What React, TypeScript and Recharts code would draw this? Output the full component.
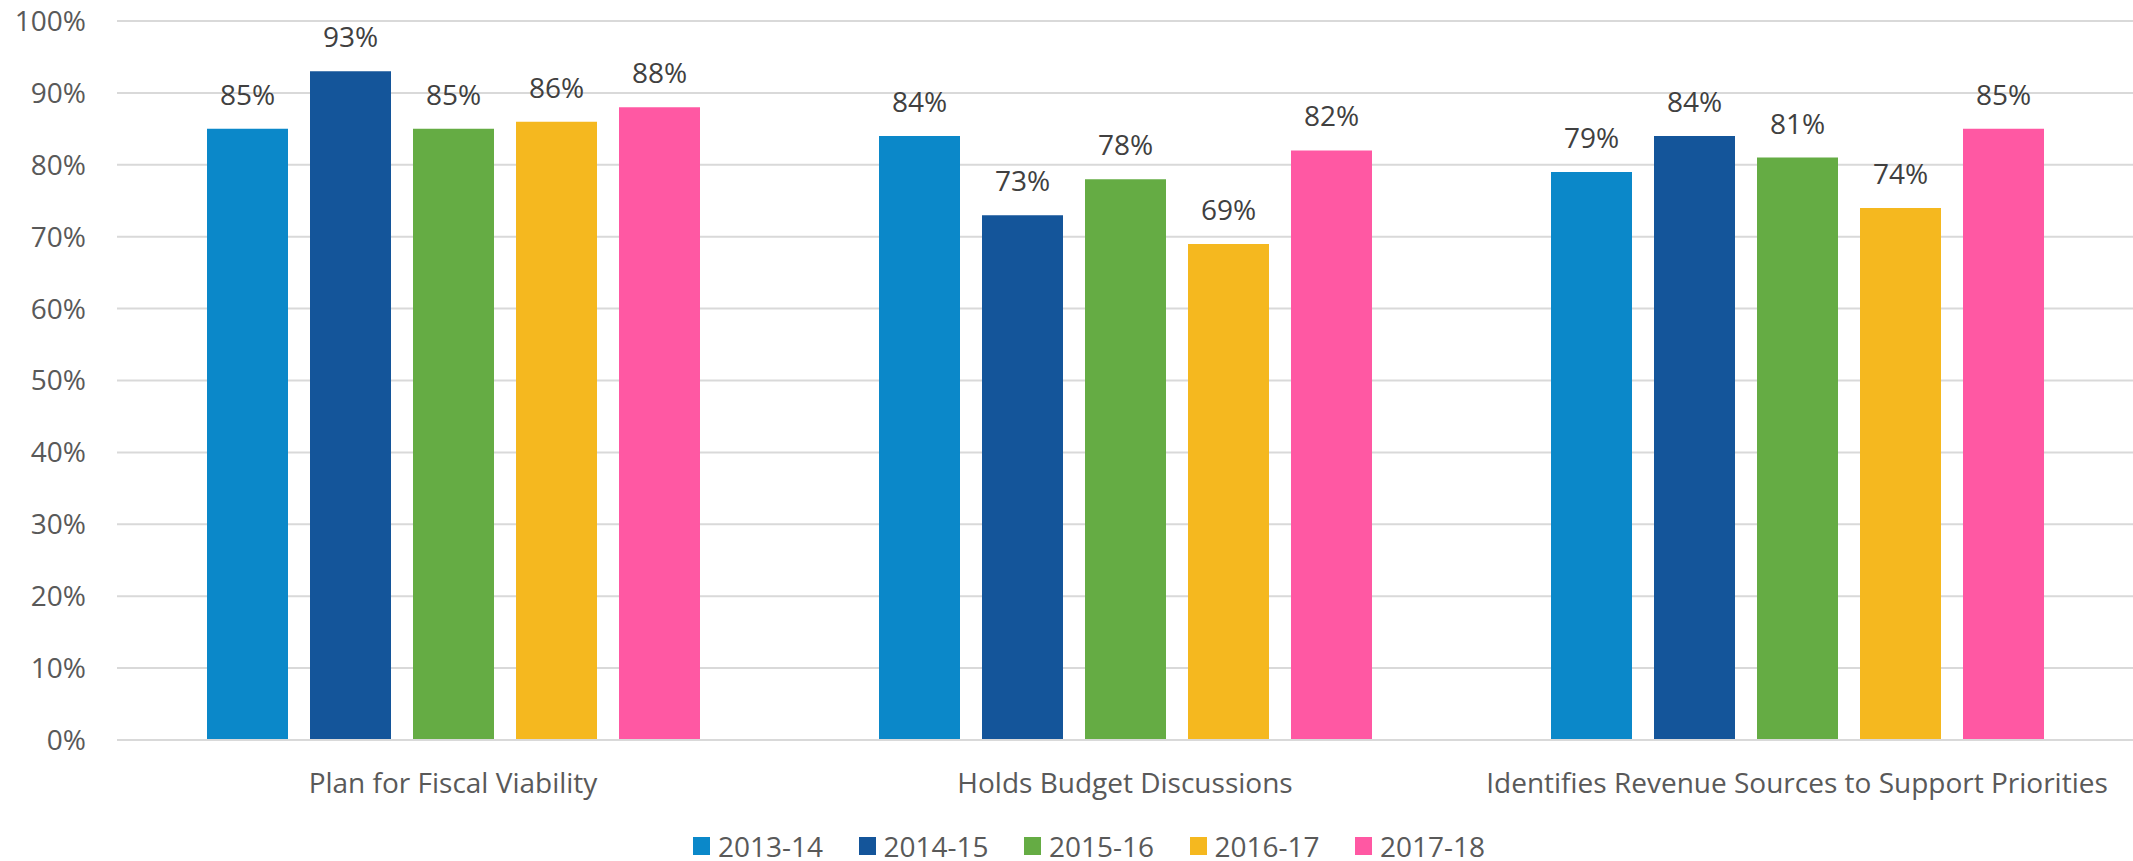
import React from "react";
import {
  BarChart,
  Bar,
  XAxis,
  YAxis,
  CartesianGrid,
  Legend,
  LabelList,
} from "recharts";

const categories = [
  "Plan for Fiscal Viability",
  "Holds Budget Discussions",
  "Identifies Revenue Sources to Support Priorities",
];

const years = ["2013-14", "2014-15", "2015-16", "2016-17", "2017-18"];
const yearColors = ["#0B88C9", "#14559A", "#65AC44", "#F5B81F", "#FF58A3"];

const values2013 = [85, 84, 79];
const values2014 = [93, 73, 84];
const values2015 = [85, 78, 81];
const values2016 = [86, 69, 74];
const values2017 = [88, 82, 85];

const yTicks = [0, 10, 20, 30, 40, 50, 60, 70, 80, 90, 100];

const seriesValues = [values2013, values2014, values2015, values2016, values2017];

const data = categories.map((name, i) => {
  const row: Record<string, string | number> = { name };
  years.forEach((y, j) => {
    row[y] = seriesValues[j][i];
  });
  return row;
});

const FONT = "'Open Sans', Lato, sans-serif";

function renderLegend() {
  return (
    <div
      style={{
        display: "flex",
        alignItems: "center",
        height: 30,
        fontFamily: FONT,
        fontSize: 28,
        color: "#595959",
      }}
    >
      {years.map((y, i) => (
        <div
          key={y}
          style={{ display: "flex", alignItems: "center", width: 165.5 }}
        >
          <span
            style={{
              display: "inline-block",
              width: 17,
              height: 18,
              background: yearColors[i],
              marginRight: 8,
            }}
          />
          <span style={{ lineHeight: "30px" }}>{y}</span>
        </div>
      ))}
    </div>
  );
}

export default function App() {
  return (
    <div
      style={{
        position: "absolute",
        left: 0,
        top: 0,
        width: 2133,
        height: 861,
        background: "#fff",
      }}
    >
      <BarChart
        width={2133}
        height={861}
        data={data}
        margin={{ top: 21, right: 0, bottom: 0, left: 0 }}
        barSize={81}
        barGap={22}
      >
        <CartesianGrid
          vertical={false}
          stroke="#d9d9d9"
          strokeWidth={2}
        />
        <XAxis
          dataKey="name"
          height={91}
          tickLine={false}
          axisLine={{ stroke: "#d9d9d9", strokeWidth: 2 }}
          tickSize={0}
          tickMargin={33}
          interval={0}
          tick={{ fontSize: 28, fill: "#595959", fontFamily: FONT }}
        />
        <YAxis
          width={117}
          domain={[0, 100]}
          ticks={yTicks}
          tickFormatter={(v) => `${v}%`}
          axisLine={false}
          tickLine={false}
          tickSize={0}
          tickMargin={31}
          tick={{ fontSize: 28, fill: "#595959", fontFamily: FONT }}
        />
        <Legend
          verticalAlign="bottom"
          content={renderLegend}
          wrapperStyle={{ left: 693, width: 900, height: 30 }}
        />
        {years.map((y, i) => (
          <Bar
            key={y}
            dataKey={y}
            fill={yearColors[i]}
            isAnimationActive={false}
          >
            <LabelList
              dataKey={y}
              position="top"
              offset={24}
              formatter={(v: number) => `${v}%`}
              style={{ fontSize: 28, fill: "#404040", fontFamily: FONT }}
            />
          </Bar>
        ))}
      </BarChart>
    </div>
  );
}
